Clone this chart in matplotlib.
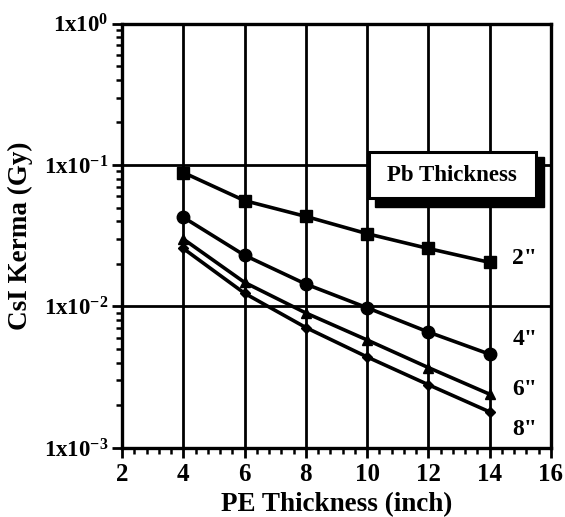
import numpy as np
import matplotlib.pyplot as plt
from matplotlib.ticker import FixedLocator, NullFormatter
from matplotlib.patches import Rectangle

plt.rcParams['font.family'] = ['Liberation Serif', 'DejaVu Serif']
plt.rcParams['font.weight'] = 'bold'
plt.rcParams['mathtext.fontset'] = 'custom'
plt.rcParams['mathtext.rm'] = 'Liberation Serif:bold'
plt.rcParams['mathtext.bf'] = 'Liberation Serif:bold'

pe_thickness = [4, 6, 8, 10, 12, 14]
kerma_2in = [0.0885, 0.056, 0.0433, 0.0327, 0.0257, 0.0205]
kerma_4in = [0.0427, 0.023, 0.0144, 0.0098, 0.0066, 0.0046]
kerma_6in = [0.030, 0.0148, 0.0090, 0.0058, 0.0037, 0.0024]
kerma_8in = [0.0257, 0.0124, 0.0071, 0.0044, 0.0028, 0.0018]
pb_labels = ['2"', '4"', '6"', '8"']
y_ticks = [1e-3, 1e-2, 1e-1, 1]
y_tick_labels = [r'$\mathbf{1x10^{-3}}$', r'$\mathbf{1x10^{-2}}$',
                 r'$\mathbf{1x10^{-1}}$', r'$\mathbf{1x10^{0}}$']

fig = plt.figure(figsize=(5.65, 5.17), dpi=100)
ax = fig.add_axes([0.216, 0.1335, 0.759, 0.821])

lw = 2.6
ax.plot(pe_thickness, kerma_2in, color='black', lw=lw, marker='s', ms=9)
ax.plot(pe_thickness, kerma_4in, color='black', lw=lw, marker='o', ms=9)
ax.plot(pe_thickness, kerma_6in, color='black', lw=lw, marker='^', ms=7)
ax.plot(pe_thickness, kerma_8in, color='black', lw=lw, marker='D', ms=5)

ax.set_yscale('log')
ax.set_xlim(2, 16)
ax.set_ylim(1e-3, 1)
ax.set_xticks(range(2, 17, 2))
ax.xaxis.set_minor_locator(FixedLocator(np.arange(2, 16.01, 0.4)))
ax.set_yticks(y_ticks)
ax.set_yticklabels(y_tick_labels)
ax.yaxis.set_minor_formatter(NullFormatter())

for x in range(4, 16, 2):
    ax.axvline(x, color='black', lw=2.0, zorder=1)
for y in [1e-2, 1e-1]:
    ax.axhline(y, color='black', lw=2.0, zorder=1)

for s in ax.spines.values():
    s.set_linewidth(2.4)

ax.tick_params(axis='both', which='major', direction='out', length=7, width=2)
ax.tick_params(axis='x', which='major', labelsize=18, pad=4)
ax.tick_params(axis='y', which='major', labelsize=16.5, pad=3)
ax.tick_params(axis='both', which='minor', direction='out', length=4, width=1.8)

ax.set_xlabel('PE Thickness (inch)', fontsize=19.5, fontweight='bold', labelpad=4)
ax.set_ylabel('CsI Kerma (Gy)', fontsize=19.5, fontweight='bold', labelpad=8)

# Pb thickness labels at the line ends
label_y = [0.0218, 0.00583, 0.00258, 0.00136]
for lab, yy in zip(pb_labels, label_y):
    ax.text(15.15, yy, lab, fontsize=17, fontweight='bold', ha='center',
            va='center')

# legend box with shadow
ax.add_patch(Rectangle((0.590, 0.567), 0.394, 0.118, transform=ax.transAxes,
                       facecolor='black', edgecolor='black', clip_on=False,
                       zorder=5))
ax.add_patch(Rectangle((0.576, 0.589), 0.389, 0.108, transform=ax.transAxes,
                       facecolor='white', edgecolor='black', lw=2.2,
                       clip_on=False, zorder=6))
ax.text(0.77, 0.643, 'Pb Thickness', transform=ax.transAxes, fontsize=16.5,
        fontweight='bold', ha='center', va='center', zorder=7)

fig.savefig('out.png', dpi=100)
